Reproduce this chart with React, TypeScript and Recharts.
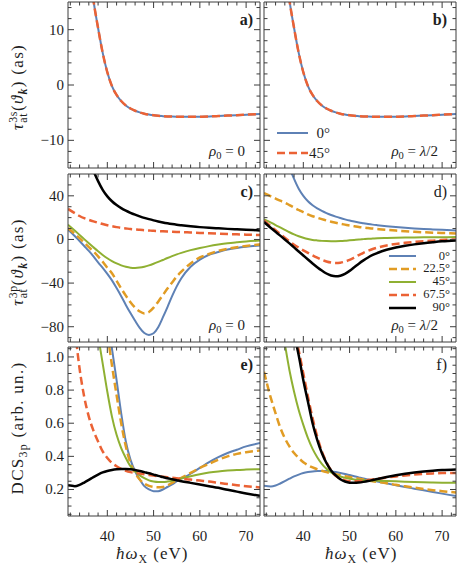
import type { ReactNode } from "react";
import { Line, LineChart, XAxis, YAxis } from "recharts";

const SERIF = '"Liberation Serif", "Times New Roman", serif';
const FRAME = "#3c3c3c";
const INK = "#1e1e1e";

// photon energy grid (eV), shared by every panel
const ENERGY = [31.5, 33, 34, 35, 36, 37, 38, 39, 40, 41, 42, 43, 44, 45, 46, 47, 48, 49, 50, 51, 52, 53, 54, 55, 56, 58, 60, 62, 64, 66, 68, 70, 73];

// a), b): 3s delay, same curve for 0° and 45° and for both rho0
const TAU3S = [70, 48, 38, 30, 22, 15.3, 10.3, 5.8, 2.3, -0.2, -1.8, -2.9, -3.7, -4.25, -4.65, -4.95, -5.18, -5.35, -5.48, -5.57, -5.63, -5.68, -5.71, -5.73, -5.74, -5.75, -5.73, -5.68, -5.61, -5.53, -5.45, -5.37, -5.23];

// c): 3p delay, rho0 = 0
const TAU3P_C_0 = [9, 3, -1.5, -6, -10.5, -15.5, -21, -26, -31.5, -37.5, -44.5, -52, -60, -67.5, -74.5, -81, -85.8, -87.5, -86, -80.5, -71.5, -62, -52, -43, -35.5, -25, -18.5, -14, -11.5, -9.3, -7.8, -6.7, -5.6];
const TAU3P_C_22 = [10.5, 5, 1.2, -3, -7, -11, -15.5, -20.5, -26, -31, -38, -45, -51.5, -57.5, -62.5, -66, -67.8, -66.5, -62.5, -57, -51, -45, -39.5, -34, -29.5, -22, -16.5, -13.3, -10.5, -8.6, -7.1, -5.9, -4.5];
const TAU3P_C_45 = [13.5, 8, 4.2, 0.3, -3.5, -7.2, -10.8, -14.2, -17.2, -19.8, -22, -23.8, -25.1, -25.9, -26.1, -25.8, -25, -23.8, -22.3, -20.6, -18.8, -17, -15.3, -13.7, -12.3, -9.8, -7.8, -6.1, -4.7, -3.5, -2.6, -1.8, -1.0];
const TAU3P_C_67 = [28, 24, 21.5, 19.5, 18, 16.6, 15.3, 14.1, 13, 12.1, 11.3, 10.6, 10.1, 9.6, 9.2, 8.8, 8.5, 8.2, 7.9, 7.7, 7.5, 7.3, 7.1, 6.9, 6.7, 6.4, 6, 5.6, 5.3, 5, 4.7, 4.4, 4];
const TAU3P_C_90 = [160, 122, 104, 89, 75, 63, 53.5, 45.5, 39.5, 35, 31.5, 28.7, 26.4, 24.4, 22.7, 21.2, 19.8, 18.6, 17.5, 16.5, 15.6, 14.8, 14.1, 13.5, 13, 12.1, 11.3, 10.7, 10.2, 9.7, 9.3, 8.9, 8.3];

// d): 3p delay, rho0 = lambda/2
const TAU3P_D_0 = [170, 130, 108, 91, 78, 66, 55.5, 46.5, 40, 35, 31.3, 28.4, 26.1, 24.1, 22.4, 20.9, 19.6, 18.4, 17.3, 16.4, 15.6, 14.9, 14.2, 13.6, 13.1, 12.2, 11.4, 10.7, 10.1, 9.6, 9.2, 8.8, 8.3];
const TAU3P_D_22 = [42.5, 39.5, 37.5, 35.5, 33.8, 31.5, 29.2, 27, 25, 23, 21.3, 19.9, 18.6, 17.4, 16.3, 15.3, 14.4, 13.6, 12.8, 12.1, 11.4, 10.9, 10.4, 10, 9.6, 8.8, 8.1, 7.5, 7, 6.6, 6.2, 5.9, 5.5];
const TAU3P_D_45 = [18.5, 15.5, 13.2, 11, 8.8, 6.6, 4.6, 2.9, 1.5, 0.4, -0.4, -0.9, -1.3, -1.5, -1.6, -1.6, -1.5, -1.2, -0.8, -0.4, 0, 0.3, 0.6, 0.8, 1, 1.3, 1.6, 1.8, 1.9, 2, 2.1, 2.1, 2.2];
const TAU3P_D_67 = [17.5, 12, 8.5, 5, 1.6, -1.7, -4.8, -7.5, -10, -12.3, -14.5, -16.6, -18.6, -20.2, -21.2, -21.6, -21.3, -20.3, -18.7, -16.6, -14.3, -12.2, -10.4, -8.8, -7.5, -5.5, -4.1, -3.1, -2.3, -1.6, -1.1, -0.6, 0];
const TAU3P_D_90 = [16, 10.5, 7, 3.5, 0, -3.6, -7.3, -11, -14.7, -18.4, -22, -25.4, -28.5, -31.2, -33, -33.7, -33.2, -31.5, -28.8, -25.5, -22.2, -19.2, -16.5, -14.2, -12.4, -9.5, -7.4, -5.8, -4.5, -3.4, -2.5, -1.7, -0.9];

// e): DCS 3p, rho0 = 0
const DCS_E_0 = [3.9, 3.3, 2.93, 2.58, 2.26, 1.97, 1.71, 1.47, 1.25, 1.05, 0.86, 0.66, 0.49, 0.38, 0.31, 0.26, 0.22, 0.2, 0.19, 0.19, 0.2, 0.215, 0.23, 0.25, 0.265, 0.295, 0.33, 0.365, 0.395, 0.42, 0.44, 0.46, 0.48];
const DCS_E_22 = [3.8, 3.2, 2.85, 2.5, 2.18, 1.9, 1.62, 1.38, 1.15, 0.95, 0.77, 0.6, 0.46, 0.36, 0.3, 0.26, 0.235, 0.222, 0.215, 0.213, 0.215, 0.225, 0.24, 0.255, 0.27, 0.3, 0.33, 0.355, 0.38, 0.4, 0.415, 0.425, 0.435];
const DCS_E_45 = [2.85, 2.3, 1.98, 1.72, 1.5, 1.3, 1.13, 0.96, 0.79, 0.64, 0.53, 0.45, 0.39, 0.34, 0.31, 0.285, 0.268, 0.255, 0.248, 0.245, 0.245, 0.248, 0.253, 0.26, 0.267, 0.28, 0.292, 0.302, 0.309, 0.314, 0.318, 0.32, 0.322];
const DCS_E_67 = [1.6, 1.17, 0.93, 0.76, 0.64, 0.555, 0.49, 0.43, 0.39, 0.36, 0.34, 0.325, 0.313, 0.305, 0.3, 0.296, 0.292, 0.288, 0.284, 0.28, 0.277, 0.274, 0.271, 0.268, 0.265, 0.26, 0.254, 0.248, 0.24, 0.233, 0.226, 0.22, 0.212];
const DCS_E_90 = [0.225, 0.22, 0.228, 0.242, 0.258, 0.275, 0.29, 0.303, 0.312, 0.318, 0.322, 0.324, 0.324, 0.322, 0.318, 0.312, 0.305, 0.298, 0.29, 0.282, 0.275, 0.268, 0.262, 0.256, 0.25, 0.24, 0.23, 0.22, 0.21, 0.198, 0.187, 0.176, 0.162];

// f): DCS 3p, rho0 = lambda/2
const DCS_F_0 = [0.222, 0.218, 0.224, 0.236, 0.25, 0.265, 0.279, 0.29, 0.299, 0.305, 0.309, 0.311, 0.312, 0.311, 0.309, 0.305, 0.3, 0.294, 0.287, 0.28, 0.273, 0.266, 0.26, 0.254, 0.248, 0.237, 0.226, 0.215, 0.205, 0.195, 0.185, 0.175, 0.16];
const DCS_F_22 = [0.91, 0.75, 0.66, 0.575, 0.51, 0.46, 0.42, 0.39, 0.365, 0.347, 0.333, 0.322, 0.313, 0.305, 0.298, 0.292, 0.286, 0.28, 0.275, 0.27, 0.265, 0.26, 0.255, 0.25, 0.246, 0.238, 0.228, 0.219, 0.211, 0.203, 0.196, 0.19, 0.182];
const DCS_F_45 = [2.2, 1.7, 1.45, 1.25, 1.08, 0.92, 0.79, 0.68, 0.59, 0.51, 0.445, 0.395, 0.355, 0.325, 0.303, 0.288, 0.278, 0.27, 0.265, 0.261, 0.258, 0.256, 0.255, 0.254, 0.253, 0.251, 0.249, 0.247, 0.245, 0.243, 0.242, 0.241, 0.24];
const DCS_F_67 = [2.35, 2.0, 1.8, 1.62, 1.46, 1.31, 1.17, 1.04, 0.9, 0.76, 0.63, 0.52, 0.43, 0.365, 0.315, 0.283, 0.265, 0.255, 0.25, 0.249, 0.25, 0.253, 0.257, 0.261, 0.265, 0.272, 0.279, 0.285, 0.29, 0.294, 0.297, 0.299, 0.3];
const DCS_F_90 = [2.3, 1.95, 1.76, 1.59, 1.43, 1.28, 1.14, 1.01, 0.86, 0.73, 0.6, 0.5, 0.42, 0.36, 0.315, 0.285, 0.262, 0.248, 0.241, 0.24, 0.242, 0.246, 0.251, 0.257, 0.263, 0.275, 0.286, 0.295, 0.302, 0.308, 0.313, 0.317, 0.321];

const ANGLES = ["0°", "22.5°", "45°", "67.5°", "90°"];
const COLORS = ["#5E81B5", "#E19C24", "#8FB032", "#EB6235", "#000000"];
const DASHES = [undefined, "8 4", undefined, "8 4", undefined];
const WIDTHS = [2, 2.5, 2, 2.5, 2.5];

const X_DOMAIN: [number, number] = [31.5, 73];
const X_MAJOR = [40, 50, 60, 70];
const X_MINOR = [32, 34, 36, 38, 42, 44, 46, 48, 52, 54, 56, 58, 62, 64, 66, 68, 72];

const Y1_MAJOR = [-10, 0, 10];
const Y1_MINOR = [-14, -12, -8, -6, -4, -2, 2, 4, 6, 8, 12, 14];
const Y2_MAJOR = [-80, -40, 0, 40];
const Y2_MINOR = [-90, -70, -60, -50, -30, -20, -10, 10, 20, 30, 50];
const Y3_MAJOR = [0.2, 0.4, 0.6, 0.8, 1.0];
const Y3_MINOR = [0.05, 0.1, 0.15, 0.25, 0.3, 0.35, 0.45, 0.5, 0.55, 0.65, 0.7, 0.75, 0.85, 0.9, 0.95, 1.05];

type Series = { name: string; color: string; dash?: string; width: number; values: number[] };

const fiveAngles = (curves: number[][]): Series[] =>
  curves.map((values, i) => ({ name: ANGLES[i], color: COLORS[i], dash: DASHES[i], width: WIDTHS[i], values }));

const TWO_ANGLES: Series[] = [
  { name: "0°", color: COLORS[0], width: 2, values: TAU3S },
  { name: "45°", color: COLORS[3], dash: "8 4", width: 2.5, values: TAU3S },
];

const intLabel = (v: number) => (v < 0 ? "\u2212" + Math.abs(v) : String(v));
const decLabel = (v: number) => v.toFixed(1);

type Side = "left" | "right" | "top" | "bottom";

// ticks point inward, majors longer; labels only where a formatter is given
function frameTick(side: Side, majors: number[], fmt: ((v: number) => string) | null) {
  return function FrameTick(props: any) {
    const { x, y, payload } = props;
    const v = payload.value as number;
    const major = majors.some((m) => Math.abs(m - v) < 1e-9);
    const len = major ? 6 : 3.5;
    let x2 = x;
    let y2 = y;
    if (side === "left") x2 = x + len;
    if (side === "right") x2 = x - len;
    if (side === "top") y2 = y + len;
    if (side === "bottom") y2 = y - len;
    let label: ReactNode = null;
    if (fmt && major) {
      label =
        side === "bottom" ? (
          <text x={x} y={y + 25} textAnchor="middle" fontFamily={SERIF} fontSize={15} fill={INK}>
            {fmt(v)}
          </text>
        ) : (
          <text x={x - 4} y={y + 5} textAnchor="end" fontFamily={SERIF} fontSize={15} fill={INK}>
            {fmt(v)}
          </text>
        );
    }
    return (
      <g>
        <line x1={x} y1={y} x2={x2} y2={y2} stroke={FRAME} strokeWidth={1} />
        {label}
      </g>
    );
  };
}

type PanelProps = {
  left: number;
  top: number;
  width: number;
  height: number;
  yDomain: [number, number];
  yMajor: number[];
  yMinor: number[];
  yFormat: ((v: number) => string) | null;
  xLabels: boolean;
  series: Series[];
};

function Panel(p: PanelProps) {
  const wl = p.yFormat ? 42 : 1;
  const hb = p.xLabels ? 32 : 1;
  const data = ENERGY.map((e, i) => {
    const row: Record<string, number> = { e };
    p.series.forEach((s, k) => {
      row["s" + k] = s.values[i];
    });
    return row;
  });
  const xTicks = [...X_MAJOR, ...X_MINOR].sort((a, b) => a - b);
  const yTicks = [...p.yMajor, ...p.yMinor].sort((a, b) => a - b);
  const axisLine = { stroke: FRAME, strokeWidth: 1 };

  return (
    <div style={{ position: "absolute", left: p.left - wl, top: p.top - 1 }}>
      <LineChart width={wl + p.width + 1} height={1 + p.height + hb} data={data} margin={{ top: 0, right: 0, bottom: 0, left: 0 }}>
        <XAxis xAxisId="b" dataKey="e" type="number" domain={X_DOMAIN} allowDataOverflow ticks={xTicks} interval={0}
          height={hb} tickSize={0} tickMargin={0} tickLine={false} axisLine={axisLine}
          tick={frameTick("bottom", X_MAJOR, p.xLabels ? String : null)} />
        <XAxis xAxisId="t" dataKey="e" orientation="top" type="number" domain={X_DOMAIN} allowDataOverflow ticks={xTicks} interval={0}
          height={1} tickSize={0} tickMargin={0} tickLine={false} axisLine={axisLine}
          tick={frameTick("top", X_MAJOR, null)} />
        <YAxis yAxisId="l" type="number" domain={p.yDomain} allowDataOverflow ticks={yTicks} interval={0}
          width={wl} tickSize={0} tickMargin={0} tickLine={false} axisLine={axisLine}
          tick={frameTick("left", p.yMajor, p.yFormat)} />
        <YAxis yAxisId="r" orientation="right" type="number" domain={p.yDomain} allowDataOverflow ticks={yTicks} interval={0}
          width={1} tickSize={0} tickMargin={0} tickLine={false} axisLine={axisLine}
          tick={frameTick("right", p.yMajor, null)} />
        {p.series.map((s, k) => (
          <Line key={s.name} xAxisId="b" yAxisId="l" type="monotone" dataKey={"s" + k} name={s.name}
            stroke={s.color} strokeWidth={s.width} strokeDasharray={s.dash} dot={false} activeDot={false}
            isAnimationActive={false} />
        ))}
      </LineChart>
    </div>
  );
}

function LegendBox({ left, top, rowHeight, sample, textWidth, fontSize, series }: {
  left: number; top: number; rowHeight: number; sample: number; textWidth: number; fontSize: number; series: Series[];
}) {
  return (
    <div style={{ position: "absolute", left, top, fontFamily: SERIF, fontSize, color: INK }}>
      {series.map((s) => (
        <div key={s.name} style={{ display: "flex", alignItems: "center", height: rowHeight }}>
          <svg width={sample} height={6} style={{ display: "block" }}>
            <line x1={0} y1={3} x2={sample} y2={3} stroke={s.color} strokeWidth={s.width} strokeDasharray={s.dash} />
          </svg>
          <span style={{ width: textWidth, textAlign: "right", lineHeight: `${fontSize - 1}px` }}>{s.name}</span>
        </div>
      ))}
    </div>
  );
}

function Text({ left, right, top, size, bold, children }: {
  left?: number; right?: number; top: number; size: number; bold?: boolean; children: ReactNode;
}) {
  return (
    <div style={{ position: "absolute", left, right, top, fontFamily: SERIF, fontSize: size, lineHeight: `${size}px`,
      fontWeight: bold ? "bold" : "normal", color: INK, whiteSpace: "nowrap" }}>
      {children}
    </div>
  );
}

function Rotated({ cx, cy, children }: { cx: number; cy: number; children: ReactNode }) {
  return (
    <div style={{ position: "absolute", left: cx, top: cy, transform: "translate(-50%, -50%) rotate(-90deg)",
      fontFamily: SERIF, fontSize: 17, letterSpacing: 1.3, color: INK, whiteSpace: "nowrap", lineHeight: "20px" }}>
      {children}
    </div>
  );
}

const sub = { fontSize: "0.7em", verticalAlign: "-0.3em", lineHeight: 0 };

function SupSub({ sup, low }: { sup: string; low: string }) {
  return (
    <span style={{ display: "inline-block", verticalAlign: "-0.3em", lineHeight: "0.8em", fontSize: "0.7em", letterSpacing: 0.5 }}>
      <span style={{ display: "block" }}>{sup}</span>
      <span style={{ display: "block" }}>{low}</span>
    </span>
  );
}

const Rho = () => (
  <>
    <i>ρ</i>
    <span style={sub}>0</span>
  </>
);

const LEFT_X = 68;
const RIGHT_X = 264;
const PW = 192;
const ROWS = [
  { top: 2, height: 166 },
  { top: 174, height: 168 },
  { top: 347, height: 169 },
];

export default function App() {
  const c5 = fiveAngles([TAU3P_C_0, TAU3P_C_22, TAU3P_C_45, TAU3P_C_67, TAU3P_C_90]);
  const d5 = fiveAngles([TAU3P_D_0, TAU3P_D_22, TAU3P_D_45, TAU3P_D_67, TAU3P_D_90]);
  const e5 = fiveAngles([DCS_E_0, DCS_E_22, DCS_E_45, DCS_E_67, DCS_E_90]);
  const f5 = fiveAngles([DCS_F_0, DCS_F_22, DCS_F_45, DCS_F_67, DCS_F_90]);
  const [r1, r2, r3] = ROWS;

  return (
    <div style={{ position: "absolute", left: 0, top: 0, width: 458, height: 568, background: "#fff", overflow: "hidden" }}>
      <Panel left={LEFT_X} top={r1.top} width={PW} height={r1.height} yDomain={[-15, 15]} yMajor={Y1_MAJOR} yMinor={Y1_MINOR}
        yFormat={intLabel} xLabels={false} series={TWO_ANGLES} />
      <Panel left={RIGHT_X} top={r1.top} width={PW} height={r1.height} yDomain={[-15, 15]} yMajor={Y1_MAJOR} yMinor={Y1_MINOR}
        yFormat={null} xLabels={false} series={TWO_ANGLES} />
      <Panel left={LEFT_X} top={r2.top} width={PW} height={r2.height} yDomain={[-94, 60]} yMajor={Y2_MAJOR} yMinor={Y2_MINOR}
        yFormat={intLabel} xLabels={false} series={c5} />
      <Panel left={RIGHT_X} top={r2.top} width={PW} height={r2.height} yDomain={[-94, 60]} yMajor={Y2_MAJOR} yMinor={Y2_MINOR}
        yFormat={null} xLabels={false} series={d5} />
      <Panel left={LEFT_X} top={r3.top} width={PW} height={r3.height} yDomain={[0.04, 1.06]} yMajor={Y3_MAJOR} yMinor={Y3_MINOR}
        yFormat={decLabel} xLabels series={e5} />
      <Panel left={RIGHT_X} top={r3.top} width={PW} height={r3.height} yDomain={[0.04, 1.06]} yMajor={Y3_MAJOR} yMinor={Y3_MINOR}
        yFormat={null} xLabels series={f5} />

      {/* panel letters */}
      <Text right={458 - 253} top={r1.top + 10} size={16} bold>a)</Text>
      <Text right={458 - 447} top={r1.top + 10} size={16} bold>b)</Text>
      <Text right={458 - 253} top={r2.top + 10} size={16} bold>c)</Text>
      <Text right={458 - 447} top={r2.top + 10} size={16}>d)</Text>
      <Text right={458 - 253} top={r3.top + 10} size={16} bold>e)</Text>
      <Text right={458 - 447} top={r3.top + 10} size={16}>f)</Text>

      {/* rho0 annotations */}
      <Text right={458 - 245} top={r1.top + r1.height - 24} size={15}><Rho /> = 0</Text>
      <Text right={458 - 438} top={r1.top + r1.height - 24} size={15}><Rho /> = <i>λ</i>/2</Text>
      <Text right={458 - 245} top={r2.top + r2.height - 24} size={15}><Rho /> = 0</Text>
      <Text right={458 - 438} top={r2.top + r2.height - 24} size={15}><Rho /> = <i>λ</i>/2</Text>

      <LegendBox left={277} top={123} rowHeight={20} sample={31} textWidth={22} fontSize={15} series={TWO_ANGLES} />
      <LegendBox left={389} top={250} rowHeight={12.8} sample={27} textWidth={34} fontSize={12.5} series={d5} />

      {/* axis titles */}
      <Rotated cx={18} cy={87}>
        <i>τ</i><SupSub sup="3s" low="at" />(<i>ϑ</i><span style={sub}><b><i>k</i></b></span>) (as)
      </Rotated>
      <Rotated cx={18} cy={262}>
        <i>τ</i><SupSub sup="3p" low="at" />(<i>ϑ</i><span style={sub}><b><i>k</i></b></span>) (as)
      </Rotated>
      <Rotated cx={18} cy={428}>
        DCS<span style={sub}>3p</span> (arb. un.)
      </Rotated>
      <Text left={116} top={545} size={17}>
        <span style={{ letterSpacing: 1 }}><i>ħω</i><span style={sub}>X</span> (eV)</span>
      </Text>
      <Text left={325} top={545} size={17}>
        <span style={{ letterSpacing: 1 }}><i>ħω</i><span style={sub}>X</span> (eV)</span>
      </Text>
    </div>
  );
}
